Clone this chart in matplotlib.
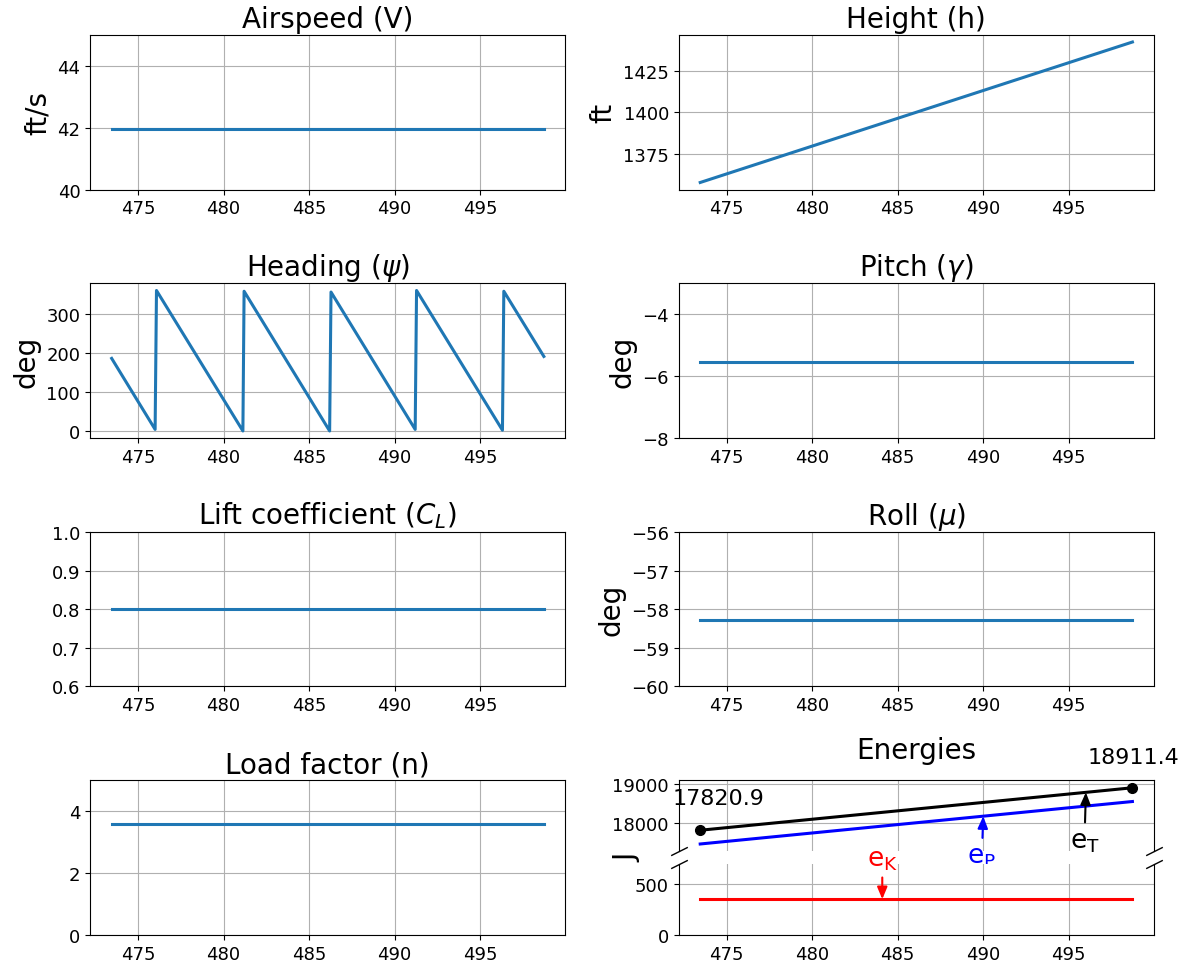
import matplotlib
matplotlib.use('Agg')
import matplotlib.pyplot as plt
import numpy as np

# time span of the simulation window (s)
t = [473.46, 498.72]

# flight states (constant / linear over the window)
airspeed = [41.95, 41.95]
height = [1357.5, 1442.5]
pitch = [-5.55, -5.55]
lift_coef = [0.80, 0.80]
roll = [-58.27, -58.27]
load_factor = [3.6, 3.6]

# heading wraps around 0/360
t_heading = [473.46, 476.0, 476.08, 481.13, 481.2, 486.2, 486.28, 491.2, 491.28, 496.3, 496.38, 498.72]
heading = [186, 4, 360, 0, 358, 0, 356, 4, 360, 2, 358, 191]

# energies (J)
e_total = [17820.9, 18911.4]
e_kin = [353.0, 353.0]
e_pot = [e_total[0] - e_kin[0], e_total[1] - e_kin[1]]

TITLE = 20
LABEL = 20
TICK = 13
c = '#1f77b4'

fig = plt.figure(figsize=(11.88, 9.7), dpi=100)
gs = fig.add_gridspec(4, 2, left=0.0758, right=0.9714, top=0.9629, bottom=0.0351,
                      hspace=0.608, wspace=0.238)


def panel(cell, x, y, title, ylabel=None, ylim=None, yticks=None):
    ax = fig.add_subplot(cell)
    ax.plot(x, y, color=c, lw=2.2)
    ax.set_title(title, fontsize=TITLE)
    if ylabel:
        ax.set_ylabel(ylabel, fontsize=LABEL)
    if ylim:
        ax.set_ylim(*ylim)
    if yticks is not None:
        ax.set_yticks(yticks)
    ax.set_xticks([475, 480, 485, 490, 495])
    ax.tick_params(labelsize=TICK)
    ax.grid(True)
    return ax


panel(gs[0, 0], t, airspeed, 'Airspeed (V)', 'ft/s', (40, 45), [40, 42, 44])
panel(gs[0, 1], t, height, 'Height (h)', 'ft', None, [1375, 1400, 1425])
panel(gs[1, 0], t_heading, heading, r'Heading ($\psi$)', 'deg', None, [0, 100, 200, 300])
panel(gs[1, 1], t, pitch, r'Pitch ($\gamma$)', 'deg', (-8, -3), [-8, -6, -4])
panel(gs[2, 0], t, lift_coef, r'Lift coefficient ($C_L$)', None, (0.6, 1.0),
      [0.6, 0.7, 0.8, 0.9, 1.0])
panel(gs[2, 1], t, roll, r'Roll ($\mu$)', 'deg', (-60, -56), [-60, -59, -58, -57, -56])
panel(gs[3, 0], t, load_factor, 'Load factor (n)', None, (0, 5), [0, 2, 4])

# Energies: broken y axis
sub = gs[3, 1].subgridspec(2, 1, hspace=0.18)
ax_top = fig.add_subplot(sub[0])
ax_bot = fig.add_subplot(sub[1], sharex=ax_top)

for ax in (ax_top, ax_bot):
    ax.plot(t, e_total, color='black', lw=2.2)
    ax.plot(t, e_pot, color='blue', lw=2.2)
    ax.plot(t, e_kin, color='red', lw=2.2)
    ax.grid(True)
    ax.tick_params(labelsize=TICK)

ax_top.plot([t[0], t[-1]], [e_total[0], e_total[-1]], 'o', color='black', ms=7)
ax_top.set_ylim(17280, 19100)
ax_top.set_yticks([18000, 19000])
ax_bot.set_ylim(0, 700)
ax_bot.set_yticks([0, 500])
ax_bot.set_xticks([475, 480, 485, 490, 495])

ax_top.spines['bottom'].set_visible(False)
ax_bot.spines['top'].set_visible(False)
ax_top.tick_params(bottom=False, labelbottom=False)
ax_top.set_title('Energies', fontsize=TITLE, pad=16)

d = .5
kw = dict(marker=[(-1, -d), (1, d)], markersize=12, linestyle='none',
          color='k', mec='k', mew=1, clip_on=False)
ax_top.plot([0, 1], [0, 0], transform=ax_top.transAxes, **kw)
ax_bot.plot([0, 1], [1, 1], transform=ax_bot.transAxes, **kw)

fig.text(627 / 1188, 1 - 858 / 970, 'J', rotation=90, fontsize=LABEL,
         ha='center', va='center')

# value labels at both ends of total energy
ax_top.annotate(f'{e_total[0]:.1f}', xy=(t[0], e_total[0]), xytext=(13, 23),
                textcoords='offset points', ha='center', va='center', fontsize=16,
                annotation_clip=False)
ax_top.annotate(f'{e_total[-1]:.1f}', xy=(t[-1], e_total[-1]), xytext=(1, 22),
                textcoords='offset points', ha='center', va='center', fontsize=16,
                annotation_clip=False)


def interp(x, ys):
    return ys[0] + (ys[1] - ys[0]) * (x - t[0]) / (t[1] - t[0])


def arrow(col):
    return dict(arrowstyle='-|>,head_length=0.6,head_width=0.25', mutation_scale=12,
                color=col, lw=1.5, shrinkA=2, shrinkB=0)


ax_top.annotate(r'$\mathregular{e_T}$', xy=(496, interp(496, e_total)), xytext=(-1, -35),
                textcoords='offset points', ha='center', va='center', fontsize=19,
                color='black', arrowprops=arrow('black'), annotation_clip=False)
ax_top.annotate(r'$\mathregular{e_P}$', xy=(490, interp(490, e_pot)), xytext=(-1, -29),
                textcoords='offset points', ha='center', va='center', fontsize=19,
                color='blue', arrowprops=arrow('blue'), annotation_clip=False)
ax_bot.annotate(r'$\mathregular{e_K}$', xy=(484.1, e_kin[0]), xytext=(0, 29),
                textcoords='offset points', ha='center', va='center', fontsize=19,
                color='red', arrowprops=arrow('red'), annotation_clip=False)

fig.savefig('out.png', dpi=100)
